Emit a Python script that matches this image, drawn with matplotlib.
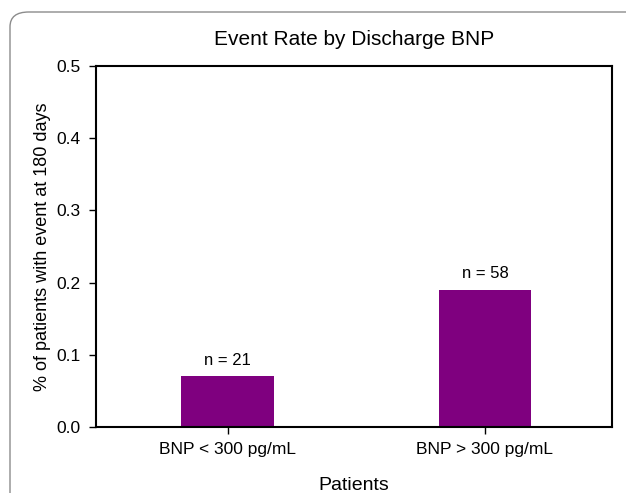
import matplotlib
matplotlib.use("Agg")
import matplotlib.pyplot as plt
from matplotlib.patches import FancyBboxPatch

categories = ["BNP < 300 pg/mL", "BNP > 300 pg/mL"]
rates = [0.07, 0.19]
counts = ["n = 21", "n = 58"]

plt.rcParams["font.family"] = ["Liberation Sans", "DejaVu Sans"]


def main():
    fig = plt.figure(figsize=(6.26, 4.93), dpi=100)

    # rounded frame around the figure
    frame = FancyBboxPatch((10 / 626, -0.2), 1.2, 1.2 - 12 / 493,
                           boxstyle="round,pad=0,rounding_size=0.03",
                           transform=fig.transFigure, fill=False,
                           edgecolor="#8c8c8c", linewidth=1.0)
    fig.patches.append(frame)

    ax = fig.add_axes([96 / 626, 66 / 493, 516 / 626, 361 / 493])
    x = list(range(len(categories)))
    ax.bar(x, rates, width=0.36, color="#7f007f")
    for xi, r, c in zip(x, rates, counts):
        ax.text(xi, r + 0.012, c, ha="center", va="bottom", fontsize=12)

    ax.set_xlim(-0.512, 1.494)
    ax.set_ylim(0, 0.5)
    ax.set_yticks([0.0, 0.1, 0.2, 0.3, 0.4, 0.5])
    ax.set_yticklabels(["0.0", "0.1", "0.2", "0.3", "0.4", "0.5"])
    ax.set_xticks(x)
    ax.set_xticklabels(categories)
    ax.tick_params(labelsize=12.5, length=5, width=1, pad=6)
    for s in ax.spines.values():
        s.set_linewidth(1.5)

    ax.set_title("Event Rate by Discharge BNP", fontsize=15, pad=15)
    ax.set_ylabel("% of patients with event at 180 days", fontsize=13, labelpad=4)
    ax.set_xlabel("Patients", fontsize=14, labelpad=14)

    fig.savefig("out.png", dpi=100)


if __name__ == "__main__":
    main()
